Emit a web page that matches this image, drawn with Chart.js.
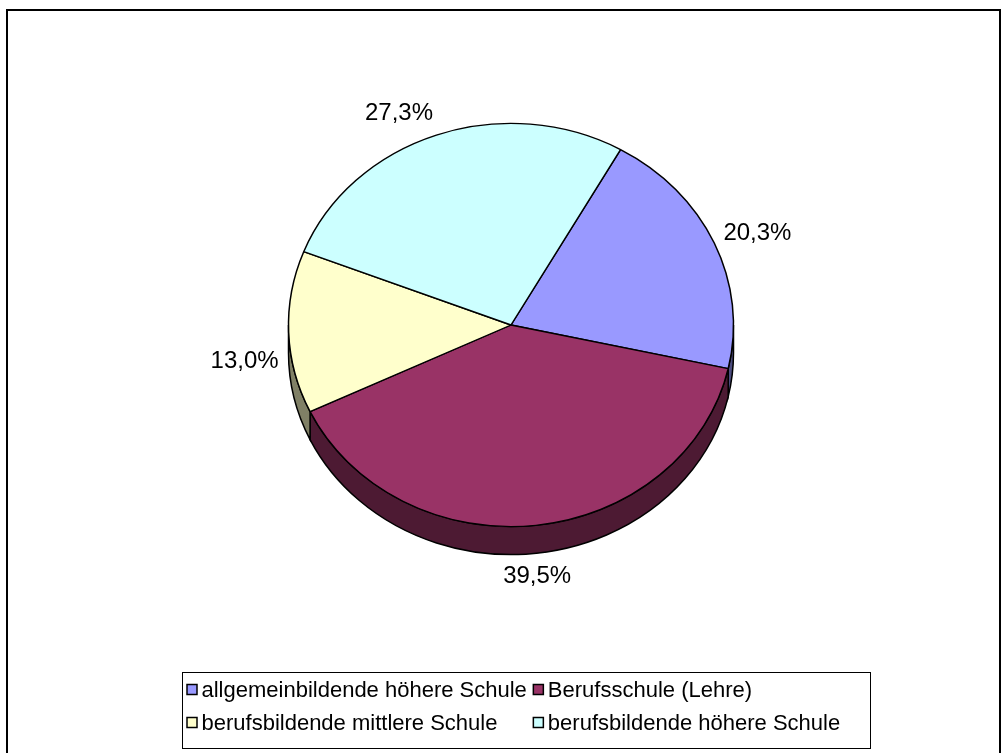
<!DOCTYPE html>
<html>
<head>
<meta charset="utf-8">
<script src="https://cdn.jsdelivr.net/npm/chart.js@4/dist/chart.umd.min.js"></script>
<style>
  body { margin: 0; background: #fff; }
  #wrap { position: relative; width: 1005px; height: 753px; }
</style>
</head>
<body>
<div id="wrap"><canvas id="pie"></canvas></div>
<script>
// Schulbesuch nach Schultyp
const labels = [
    'allgemeinbildende höhere Schule',
    'Berufsschule (Lehre)',
    'berufsbildende mittlere Schule',
    'berufsbildende höhere Schule'
];
const values = [20.3, 39.5, 13.0, 27.3];
const colors = ['#9999FF', '#993366', '#FFFFCC', '#CCFFFF'];
const sideColors = ['#4D4D80', '#4D1A33', '#808066', '#668080'];

const tilt = 0.906;   // Höhe/Breite der Ellipse
const depth = 28;     // Dicke der Torte
const labelFont = '24px "Liberation Sans", Arial, sans-serif';
const legendFont = '22px "Liberation Sans", Arial, sans-serif';

const fmt = v => v.toFixed(1).replace('.', ',') + '%';

const pie3d = {
    id: 'pie3d',
    beforeDatasetsDraw(chart) {
        const ctx = chart.ctx;
        const arcs = chart.getDatasetMeta(0).data;
        const cx = arcs[0].x, cy = arcs[0].y;
        const rx = arcs[0].outerRadius, ry = rx * tilt;

        // Seitenwand (nur vordere Hälfte sichtbar)
        arcs.forEach((arc, i) => {
            for (const k of [-1, 0, 1]) {
                const a = Math.max(arc.startAngle, k * 2 * Math.PI);
                const b = Math.min(arc.endAngle, k * 2 * Math.PI + Math.PI);
                if (b <= a) continue;
                ctx.beginPath();
                ctx.ellipse(cx, cy, rx, ry, 0, a, b);
                ctx.lineTo(cx + rx * Math.cos(b), cy + ry * Math.sin(b) + depth);
                ctx.ellipse(cx, cy + depth, rx, ry, 0, b, a, true);
                ctx.closePath();
                ctx.fillStyle = sideColors[i];
                ctx.fill();
                ctx.lineWidth = 1.5;
                ctx.strokeStyle = '#000';
                ctx.stroke();
            }
        });

        ctx.save();
        ctx.translate(cx, cy);
        ctx.scale(1, tilt);
        ctx.translate(-cx, -cy);
    },
    afterDatasetsDraw(chart) {
        const ctx = chart.ctx;
        ctx.restore();

        const arcs = chart.getDatasetMeta(0).data;
        const cx = arcs[0].x, cy = arcs[0].y;
        const rx = arcs[0].outerRadius, ry = rx * tilt;

        // Beschriftungen
        ctx.save();
        ctx.font = labelFont;
        ctx.fillStyle = '#000';
        ctx.textBaseline = 'middle';
        arcs.forEach((arc, i) => {
            const mid = (arc.startAngle + arc.endAngle) / 2;
            const c = Math.cos(mid), s = Math.sin(mid);
            const ex = cx + rx * c + 10 * c;
            const ey = cy + ry * s + (s > 0 ? depth : 0) + 10 * s + 13 * s;
            ctx.textAlign = c > 0.25 ? 'left' : (c < -0.25 ? 'right' : 'center');
            ctx.fillText(fmt(values[i]), ex, ey);
        });
        ctx.restore();
    },
    afterDraw(chart) {
        const ctx = chart.ctx;
        ctx.save();

        // Rahmen
        ctx.lineWidth = 2;
        ctx.strokeStyle = '#000';
        ctx.strokeRect(7, 10, 993, 750);

        // Legende
        const box = { x: 182.5, y: 672.5, w: 688, h: 76 };
        ctx.fillStyle = '#fff';
        ctx.fillRect(box.x, box.y, box.w, box.h);
        ctx.lineWidth = 1;
        ctx.strokeRect(box.x, box.y, box.w, box.h);

        ctx.font = legendFont;
        ctx.textBaseline = 'middle';
        ctx.textAlign = 'left';
        const col1 = Math.max(ctx.measureText(labels[0]).width, ctx.measureText(labels[2]).width);
        const colX = [box.x + 4, box.x + 4 + 16 + col1 + 5];
        const rowY = [690, 723];
        labels.forEach((lab, i) => {
            const x = colX[i % 2], y = rowY[Math.floor(i / 2)];
            ctx.fillStyle = colors[i];
            ctx.fillRect(x + 0.5, y - 5.5, 10, 10);
            ctx.lineWidth = 1.5;
            ctx.strokeStyle = '#000';
            ctx.strokeRect(x + 0.5, y - 5.5, 10, 10);
            ctx.fillStyle = '#000';
            ctx.fillText(lab, x + 15, y + 1);
        });
        ctx.restore();
    }
};

new Chart(document.getElementById('pie'), {
    type: 'pie',
    data: {
        labels: labels,
        datasets: [{
            data: values,
            backgroundColor: colors,
            borderColor: '#000',
            borderWidth: 1.5,
        }]
    },
    options: {
        responsive: true,
        maintainAspectRatio: false,
        animation: false,
        rotation: 29.5,
        radius: 222.5,
        layout: { padding: { left: 271, right: 254, top: 85, bottom: 188 } },
        plugins: {
            legend: { display: false },
            tooltip: { enabled: false },
        },
    },
    plugins: [pie3d],
});
</script>
</body>
</html>
